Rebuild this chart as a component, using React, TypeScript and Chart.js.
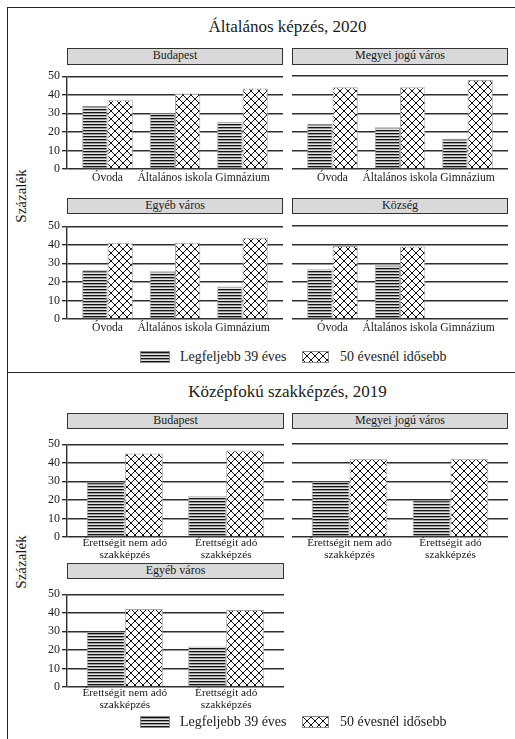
import React, { useEffect, useRef } from "react";
import { Chart, registerables } from "chart.js";
Chart.register(...registerables);

// ---------- data ----------
const seriesNames = ["Legfeljebb 39 éves", "50 évesnél idősebb"];

const generalTitle = "Általános képzés, 2020";
const generalCategories = ["Óvoda", "Általános iskola", "Gimnázium"];
const generalFacets = ["Budapest", "Megyei jogú város", "Egyéb város", "Község"];
const generalBudapestYoung = [34.1, 30.0, 25.5];
const generalBudapestOld = [37.1, 40.7, 43.4];
const generalMegyeiYoung = [24.3, 22.5, 16.2];
const generalMegyeiOld = [43.9, 43.9, 47.8];
const generalEgyebYoung = [26.2, 25.7, 17.5];
const generalEgyebOld = [41.1, 41.1, 43.8];
const generalKozsegYoung = [26.8, 28.9, null];
const generalKozsegOld = [39.3, 39.0, null];

const vocTitle = "Középfokú szakképzés, 2019";
const vocCategories = [
  ["Érettségit nem adó", "szakképzés"],
  ["Érettségit adó", "szakképzés"],
];
const vocFacets = ["Budapest", "Megyei jogú város", "Egyéb város"];
const vocBudapestYoung = [29.5, 22.0];
const vocBudapestOld = [45.0, 46.6];
const vocMegyeiYoung = [29.8, 19.8];
const vocMegyeiOld = [42.1, 42.1];
const vocEgyebYoung = [29.8, 21.8];
const vocEgyebOld = [42.0, 41.5];

const yAxisTitle = "Százalék";
const yMin = 0;
const yMax = 50;
const yStep = 10;

// ---------- styling ----------
const FONT = '"Liberation Serif", "DejaVu Serif", serif';
const INK = "#1a1a1a";
const GRID = "#2e2e2e";
const Y_AXIS_W = 40;
const PAD_TOP = 9;
const PAD_RIGHT = 2;

let patternCache: { stripe: CanvasPattern; cross: CanvasPattern; stripeUrl: string; crossUrl: string } | null = null;
function getPatterns() {
  if (patternCache) return patternCache;
  const s = document.createElement("canvas");
  s.width = 4;
  s.height = 3;
  const sc = s.getContext("2d")!;
  const rows = ["#111111", "#9a9a9a", "#e4e4e4"];
  rows.forEach((c, i) => {
    sc.fillStyle = c;
    sc.fillRect(0, i, 4, 1);
  });
  const c = document.createElement("canvas");
  c.width = 8;
  c.height = 8;
  const cc = c.getContext("2d")!;
  cc.fillStyle = "#ffffff";
  cc.fillRect(0, 0, 8, 8);
  cc.strokeStyle = "#111111";
  cc.lineWidth = 1;
  cc.beginPath();
  cc.moveTo(-1, -1);
  cc.lineTo(9, 9);
  cc.moveTo(-1, 9);
  cc.lineTo(9, -1);
  cc.stroke();
  patternCache = {
    stripe: sc.createPattern(s, "repeat")!,
    cross: cc.createPattern(c, "repeat")!,
    stripeUrl: s.toDataURL(),
    crossUrl: c.toDataURL(),
  };
  return patternCache;
}

type FacetProps = {
  plotLeft: number;
  plotTop: number;
  plotW: number;
  plotH: number;
  categories: (string | string[])[];
  young: (number | null)[];
  old: (number | null)[];
  showY: boolean;
  expand: number;
  xAxisH: number;
  labelSize: number;
  labelLineHeight: number;
  labelPad: number;
};

function Facet(p: FacetProps) {
  const ref = useRef<HTMLCanvasElement>(null);
  const w = Y_AXIS_W + p.plotW + PAD_RIGHT;
  const h = PAD_TOP + p.plotH + p.xAxisH;
  useEffect(() => {
    const canvas = ref.current!;
    const pats = getPatterns();
    const toPts = (arr: (number | null)[]) =>
      arr.map((v, i) => (v == null ? null : { x: i, y: v })).filter((d) => d !== null) as { x: number; y: number }[];
    const n = p.categories.length;
    const chart = new Chart(canvas, {
      type: "bar",
      data: {
        datasets: [
          {
            label: seriesNames[0],
            data: toPts(p.young),
            backgroundColor: pats.stripe,
            borderColor: "#a0a0a0",
            borderWidth: 1,
            categoryPercentage: 0.75,
            barPercentage: 1,
          },
          {
            label: seriesNames[1],
            data: toPts(p.old),
            backgroundColor: pats.cross,
            borderColor: "#a8a8a8",
            borderWidth: 1,
            categoryPercentage: 0.75,
            barPercentage: 1,
          },
        ],
      } as any,
      options: {
        animation: false,
        responsive: false,
        devicePixelRatio: 1,
        layout: { padding: { top: PAD_TOP, right: PAD_RIGHT, left: 0, bottom: 0 } },
        plugins: { legend: { display: false }, tooltip: { enabled: false } },
        scales: {
          x: {
            type: "linear",
            offset: false,
            min: -p.expand,
            max: n - 1 + p.expand,
            afterBuildTicks: (axis: any) => {
              axis.ticks = p.categories.map((_, i) => ({ value: i }));
            },
            afterFit: (axis: any) => {
              axis.height = p.xAxisH;
            },
            grid: { display: false, drawTicks: false, offset: false },
            border: { display: false },
            ticks: {
              autoSkip: false,
              maxRotation: 0,
              minRotation: 0,
              padding: p.labelPad,
              color: INK,
              font: { family: FONT, size: p.labelSize, lineHeight: p.labelLineHeight },
              callback: (v: any) => p.categories[Math.round(Number(v))] as any,
            },
          },
          y: {
            type: "linear",
            min: yMin,
            max: yMax,
            afterFit: (axis: any) => {
              axis.width = Y_AXIS_W;
            },
            grid: { color: GRID, lineWidth: 1.4, drawTicks: p.showY, tickLength: 5 },
            border: { display: p.showY, color: GRID, width: 1.4 },
            ticks: {
              display: p.showY,
              stepSize: yStep,
              padding: 2,
              color: INK,
              font: { family: FONT, size: 12 },
            },
          },
        },
      } as any,
    });
    return () => chart.destroy();
  }, []);
  return (
    <canvas
      ref={ref}
      width={w}
      height={h}
      style={{ position: "absolute", left: p.plotLeft - Y_AXIS_W, top: p.plotTop - PAD_TOP, width: w, height: h }}
    />
  );
}

function Strip({ left, top, width, height, text }: { left: number; top: number; width: number; height: number; text: string }) {
  return (
    <div
      style={{
        position: "absolute",
        left,
        top,
        width,
        height,
        boxSizing: "border-box",
        background: "#d9d9d9",
        border: "1.3px solid #333",
        fontFamily: FONT,
        fontSize: 12,
        color: INK,
        textAlign: "center",
        lineHeight: height - 2.6 + "px",
        whiteSpace: "nowrap",
      }}
    >
      {text}
    </div>
  );
}

function Text({ cx, cy, size, text, rotate }: { cx: number; cy: number; size: number; text: string; rotate?: boolean }) {
  return (
    <div
      style={{
        position: "absolute",
        left: cx - 200,
        top: cy - size,
        width: 400,
        height: size * 2,
        lineHeight: size * 2 + "px",
        textAlign: "center",
        fontFamily: FONT,
        fontSize: size,
        color: INK,
        whiteSpace: "nowrap",
        transform: rotate ? "rotate(-90deg)" : undefined,
      }}
    >
      {text}
    </div>
  );
}

function Legend({ cy }: { cy: number }) {
  const pats = getPatterns();
  const sw = (left: number, width: number, url: string) => (
    <div
      style={{
        position: "absolute",
        left,
        top: cy - 6,
        width,
        height: 12,
        boxSizing: "border-box",
        border: "1px solid #8a8a8a",
        backgroundImage: `url(${url})`,
        backgroundRepeat: "repeat",
      }}
    />
  );
  const label = (left: number, text: string) => (
    <div
      style={{
        position: "absolute",
        left,
        top: cy - 10,
        height: 20,
        lineHeight: "20px",
        fontFamily: FONT,
        fontSize: 14,
        color: INK,
        whiteSpace: "nowrap",
      }}
    >
      {text}
    </div>
  );
  return (
    <>
      {sw(140, 30, pats.stripeUrl)}
      {label(180, seriesNames[0])}
      {sw(302, 27, pats.crossUrl)}
      {label(340, seriesNames[1])}
    </>
  );
}

export default function App() {
  const topCommon = {
    categories: generalCategories,
    expand: 0.6,
    xAxisH: 22,
    labelSize: 11.6,
    labelLineHeight: 1.2,
    labelPad: 2,
    plotW: 216,
    plotH: 93.3,
  };
  const botCommon = {
    categories: vocCategories,
    expand: 0.57,
    xAxisH: 30,
    labelSize: 11.3,
    labelLineHeight: 1.05,
    labelPad: 0,
  };
  const line = (left: number, top: number, width: number, height: number) => (
    <div style={{ position: "absolute", left, top, width, height, background: "#222" }} />
  );
  return (
    <div style={{ position: "absolute", left: 0, top: 0, width: 515, height: 739, overflow: "hidden", background: "#fff" }}>
      {line(6.5, 6.5, 520, 1.4)}
      {line(6.5, 6.5, 1.4, 740)}
      {line(6.5, 371.5, 520, 1.4)}

      {/* Top panel */}
      <Text cx={287.5} cy={27} size={17} text={generalTitle} />
      <Text cx={21} cy={196} size={15} text={yAxisTitle} rotate />
      <Strip left={67} top={48} width={216} height={16.5} text={generalFacets[0]} />
      <Strip left={292} top={48} width={216} height={16.5} text={generalFacets[1]} />
      <Strip left={67} top={197.5} width={216} height={16} text={generalFacets[2]} />
      <Strip left={292} top={197.5} width={216} height={16} text={generalFacets[3]} />
      <Facet {...topCommon} plotLeft={67} plotTop={76} young={generalBudapestYoung} old={generalBudapestOld} showY={true} />
      <Facet {...topCommon} plotLeft={292} plotTop={76} young={generalMegyeiYoung} old={generalMegyeiOld} showY={false} />
      <Facet {...topCommon} plotLeft={67} plotTop={225.7} young={generalEgyebYoung} old={generalEgyebOld} showY={true} />
      <Facet {...topCommon} plotLeft={292} plotTop={225.7} young={generalKozsegYoung} old={generalKozsegOld} showY={false} />
      <Legend cy={357} />

      {/* Bottom panel */}
      <Text cx={287.5} cy={392} size={17} text={vocTitle} />
      <Text cx={21} cy={562} size={15} text={yAxisTitle} rotate />
      <Strip left={67} top={413} width={217} height={16} text={vocFacets[0]} />
      <Strip left={292} top={413} width={216} height={16} text={vocFacets[1]} />
      <Strip left={67} top={563} width={217} height={15.5} text={vocFacets[2]} />
      <Facet {...botCommon} plotW={217} plotH={93.3} plotLeft={67} plotTop={444} young={vocBudapestYoung} old={vocBudapestOld} showY={true} />
      <Facet {...botCommon} plotW={216} plotH={93.3} plotLeft={292} plotTop={444} young={vocMegyeiYoung} old={vocMegyeiOld} showY={false} />
      <Facet {...botCommon} plotW={217} plotH={93.8} plotLeft={67} plotTop={593.5} young={vocEgyebYoung} old={vocEgyebOld} showY={true} />
      <Legend cy={722} />
    </div>
  );
}
